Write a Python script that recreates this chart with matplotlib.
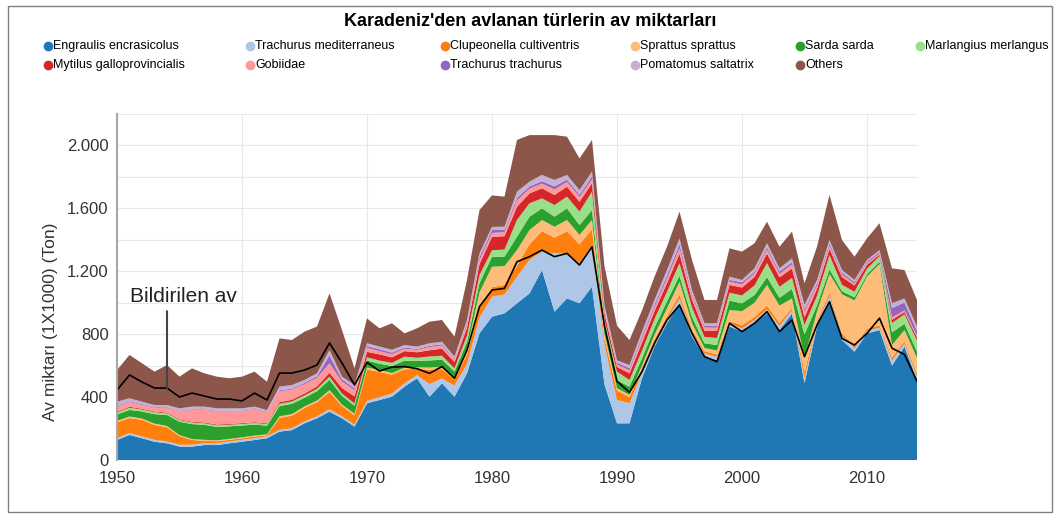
import matplotlib.pyplot as plt
from matplotlib.patches import Rectangle
from matplotlib.lines import Line2D

plt.rcParams['font.family'] = ['Liberation Sans', 'DejaVu Sans']

years = list(range(1950, 2015))

# Av miktarları (1X1000 ton), 1950-2014
engraulis = [127, 159, 138, 116, 106, 85, 85, 95, 95, 106,
             116, 127, 138, 180, 190, 233, 265, 307, 265, 212,
             360, 381, 402, 466, 519, 402, 487, 402, 550, 804,
             910, 931, 995, 1058, 1206, 942, 1026, 995, 1101, 480,
             233, 233, 520, 720, 868, 995, 783, 656, 635, 847,
             815, 868, 931, 825, 931, 487, 847, 1016, 762, 688,
             804, 825, 600, 720, 508]
trachurus_med = [12, 12, 12, 12, 12, 12, 12, 12, 12, 12,
                 12, 12, 12, 12, 12, 12, 12, 15, 12, 12,
                 15, 18, 20, 20, 20, 80, 30, 70, 60, 100,
                 127, 120, 169, 212, 117, 370, 286, 254, 264, 250,
                 148, 127, 35, 25, 25, 30, 25, 20, 20, 20,
                 20, 20, 25, 25, 20, 30, 20, 25, 25, 20,
                 15, 15, 30, 20, 20]
clupeonella = [100, 95, 105, 95, 90, 55, 30, 15, 12, 10,
               10, 10, 8, 75, 80, 85, 90, 110, 65, 60,
               200, 160, 120, 90, 40, 90, 60, 40, 60, 60,
               60, 60, 70, 100, 130, 100, 140, 120, 100, 40,
               60, 40, 30, 20, 20, 25, 20, 15, 15, 15,
               20, 20, 25, 20, 15, 40, 15, 20, 15, 15,
               15, 15, 20, 15, 20]
sprattus = [10, 10, 8, 8, 8, 6, 6, 6, 6, 6,
            6, 6, 5, 10, 10, 10, 10, 12, 10, 10,
            12, 12, 10, 10, 10, 15, 15, 15, 40, 100,
            130, 120, 99, 90, 71, 69, 72, 60, 59, 30,
            15, 13, 15, 30, 50, 80, 40, 20, 25, 70,
            90, 90, 130, 110, 60, 90, 60, 120, 250, 290,
            330, 390, 80, 70, 100]
sarda = [40, 42, 45, 60, 70, 85, 95, 95, 85, 80,
         75, 70, 55, 65, 65, 55, 60, 65, 55, 50,
         45, 40, 45, 45, 40, 45, 45, 35, 40, 60,
         63, 60, 85, 85, 74, 64, 74, 63, 63, 40,
         50, 53, 45, 45, 45, 40, 40, 30, 35, 60,
         50, 50, 50, 50, 60, 150, 40, 30, 20, 20,
         15, 15, 80, 40, 40]
merlangius = [12, 14, 12, 12, 10, 10, 10, 10, 10, 10,
              10, 10, 10, 15, 15, 15, 15, 20, 15, 15,
              20, 20, 20, 25, 20, 25, 25, 20, 40, 50,
              42, 45, 106, 85, 63, 74, 74, 85, 117, 50,
              55, 42, 50, 55, 60, 80, 60, 40, 45, 50,
              50, 60, 90, 70, 70, 60, 60, 90, 40, 35,
              35, 35, 60, 60, 70]
mytilus = [5, 6, 5, 5, 5, 5, 5, 5, 5, 5,
           5, 5, 5, 10, 10, 12, 15, 25, 35, 45,
           35, 40, 35, 35, 35, 40, 45, 40, 50, 70,
           85, 85, 84, 63, 64, 64, 63, 63, 53, 40,
           30, 42, 50, 50, 55, 60, 50, 40, 45, 50,
           50, 55, 60, 60, 60, 50, 45, 40, 50, 40,
           25, 10, 20, 15, 20]
gobiidae = [35, 30, 25, 25, 30, 50, 75, 80, 83, 80,
            75, 80, 70, 70, 65, 60, 55, 60, 40, 40,
            25, 20, 20, 15, 15, 20, 20, 15, 20, 25,
            25, 25, 40, 30, 30, 35, 30, 30, 25, 20,
            15, 20, 25, 25, 28, 35, 25, 20, 20, 20,
            20, 22, 25, 22, 25, 35, 20, 20, 15, 12,
            10, 8, 15, 10, 12]
trachurus_tr = [5, 5, 5, 4, 4, 4, 4, 4, 4, 4,
                4, 4, 4, 6, 6, 8, 10, 50, 15, 12,
                12, 12, 10, 8, 6, 8, 8, 6, 12, 18,
                18, 15, 16, 14, 15, 20, 15, 14, 19, 10,
                12, 13, 15, 16, 20, 25, 15, 12, 13, 12,
                13, 12, 15, 15, 15, 15, 15, 15, 12, 10,
                10, 10, 60, 50, 30]
pomatomus = [24, 19, 15, 12, 14, 16, 17, 17, 16, 15,
             15, 15, 10, 23, 23, 18, 18, 34, 17, 20,
             17, 17, 18, 16, 15, 16, 16, 13, 17, 25,
             20, 20, 40, 30, 40, 40, 30, 30, 30, 20,
             15, 20, 30, 30, 35, 37, 21, 15, 15, 20,
             15, 20, 25, 20, 24, 27, 21, 21, 17, 13,
             11, 10, 30, 26, 27]
others = [201, 275, 244, 212, 254, 201, 243, 211, 201, 191,
          201, 222, 180, 306, 286, 307, 297, 360, 296, 106,
          158, 116, 168, 74, 116, 137, 138, 127, 254, 275,
          200, 191, 328, 296, 253, 285, 243, 201, 201, 250,
          220, 159, 135, 148, 148, 170, 191, 148, 148, 180,
          180, 159, 137, 137, 170, 138, 211, 286, 191, 148,
          137, 170, 222, 180, 169]
reported = [444, 540, 495, 457, 457, 400, 425, 406, 387, 387,
            375, 425, 381, 552, 552, 571, 603, 743, 616, 476,
            620, 565, 590, 593, 580, 550, 593, 519, 698, 974,
            1079, 1090, 1259, 1291, 1333, 1291, 1312, 1238, 1354, 850,
            500, 430, 561, 741, 889, 984, 804, 656, 624, 868,
            815, 868, 942, 815, 889, 656, 857, 1005, 772, 730,
            804, 900, 710, 670, 500]

names = ["Engraulis encrasicolus", "Trachurus mediterraneus", "Clupeonella cultiventris",
         "Sprattus sprattus", "Sarda sarda", "Marlangius merlangus",
         "Mytilus galloprovincialis", "Gobiidae", "Trachurus trachurus",
         "Pomatomus saltatrix", "Others"]
colors = ["#1f77b4", "#aec7e8", "#ff7f0e", "#ffbb78", "#2ca02c", "#98df8a",
          "#d62728", "#ff9896", "#9467bd", "#c5b0d5", "#8c564b"]
series = [engraulis, trachurus_med, clupeonella, sprattus, sarda, merlangius,
          mytilus, gobiidae, trachurus_tr, pomatomus, others]

W, H = 1060, 518
fig = plt.figure(figsize=(W / 100, H / 100), dpi=100)
ax = fig.add_axes([117 / W, 1 - 460 / H, 800 / W, (460 - 113.5) / H])

ax.stackplot(years, *series, colors=colors, labels=names, lw=0)
ax.plot(years, reported, color='black', lw=1.2)

ax.set_xlim(1950, 2014)
ax.set_ylim(0, 2200)
ax.set_xticks(range(1950, 2011, 10))
ax.set_yticks(range(0, 2001, 400))
ax.set_yticks(range(0, 2201, 200), minor=True)
ax.set_yticklabels([f"{v:,}".replace(',', '.') for v in range(0, 2001, 400)])
ax.grid(True, which='both', color='#e8e8e8', lw=0.8)
ax.set_axisbelow(True)
ax.tick_params(which='both', length=0, labelsize=12, colors='#333333')
ax.tick_params(axis='x', pad=8)
ax.tick_params(axis='y', pad=6)
for side in ['top', 'right', 'bottom']:
    ax.spines[side].set_visible(False)
ax.spines['left'].set_color('#a8a8a8')
ax.spines['left'].set_linewidth(1.5)

ax.set_ylabel("Av miktarı (1X1000) (Ton)", fontsize=12.5, color='#333333')
ax.yaxis.set_label_coords(-0.074, 0.40)

# Bildirilen av etiketi
ax.text(1951.0, 1040, "Bildirilen av", fontsize=15, va='center', ha='left', color='#222222')
ax.annotate('', xy=(1954, reported[4]), xytext=(1954, 945),
            arrowprops=dict(arrowstyle='-', color='#444444', lw=1.5, shrinkA=0, shrinkB=0))

fig.text(0.5, 1 - 22 / H, "Karadeniz'den avlanan türlerin av miktarları",
         ha='center', va='center', fontsize=13, fontweight='bold')

# lejant
leg_x = [48, 250, 445, 635, 800, 920]
leg_y = [46, 65]
for i, (name, c) in enumerate(zip(names, colors)):
    row, col = divmod(i, 6)
    x, y = leg_x[col], leg_y[row]
    fig.add_artist(Line2D([x / W], [1 - y / H], marker='o', ms=6, color=c, lw=0,
                          transform=fig.transFigure))
    fig.text((x + 5) / W, 1 - y / H, name, fontsize=9, va='center', ha='left')

fig.add_artist(Rectangle((8 / W, 6 / H), 1044 / W, 506 / H, fill=False,
                         ec='#808080', lw=1, transform=fig.transFigure))

plt.savefig('out.png', dpi=100)
